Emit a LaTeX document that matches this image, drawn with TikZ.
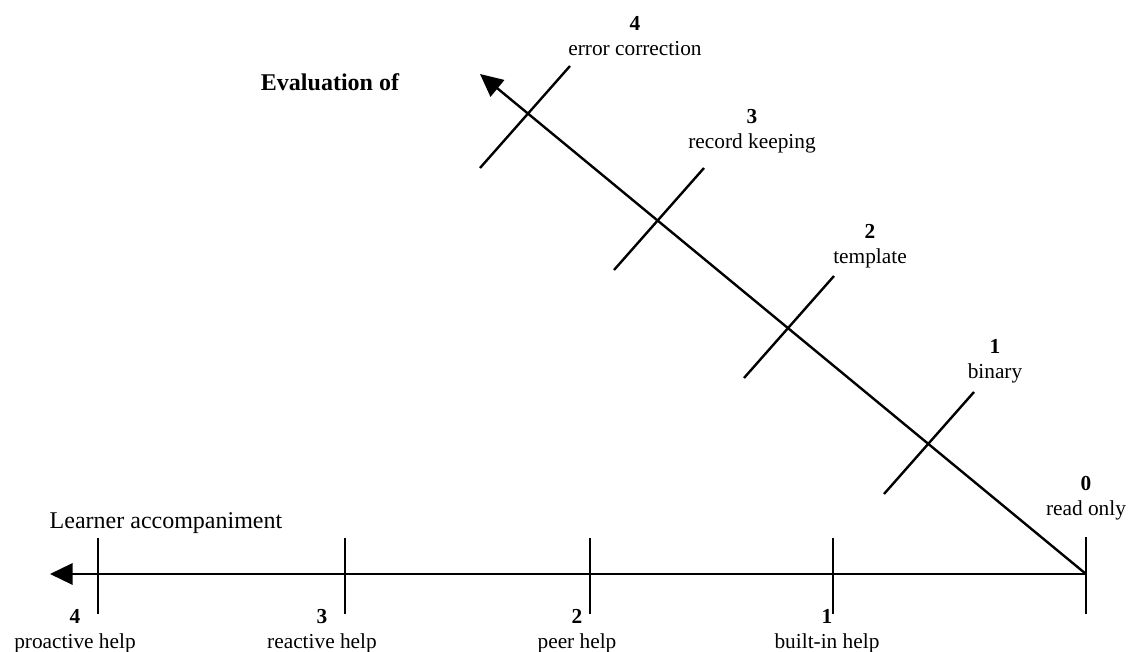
\documentclass[tikz,border=0pt]{standalone}
\usepackage{fontspec}
\setmainfont{Liberation Serif}
\usetikzlibrary{arrows.meta, positioning}
\tikzset{
	axis/.style={line width=1.8pt, -{Triangle[length=17pt,width=16pt]}}, % the two scales
	tick/.style={line width=1.8pt}, % small cross marks
	level/.style={align=center, font=\fontsize{16}{18.75}\selectfont}, % number and name of a level
	title/.style={font=\fontsize{18}{21}\selectfont}, % axis names
}
\begin{document}
\begin{tikzpicture}[x=0.75pt, y=-0.75pt]
	\useasboundingbox (0,0) rectangle (1140,652);
	% axes
	\coordinate (o) at (1086,574);
	\coordinate (htip) at (50,574);
	\coordinate (dtip) at (480,74);
	\draw[axis] (o) -- (htip);
	\draw[axis] (o) -- (dtip);
	% ticks on learner accompaniment
	\coordinate (h1) at (833,574);
	\coordinate (h2) at (590,574);
	\coordinate (h3) at (345,574);
	\coordinate (h4) at (98,574);
	\draw[tick] (1086,537) -- (1086,614);
	\draw[tick] (833,538) -- (833,614);
	\draw[tick] (590,538) -- (590,614);
	\draw[tick] (345,538) -- (345,614);
	\draw[tick] (98,538) -- (98,614);
	% ticks on evaluation
	\coordinate (d1) at (929,443);
	\coordinate (d2) at (789,327);
	\coordinate (d3) at (659,219);
	\coordinate (d4) at (525,117);
	\draw[tick] ([shift={(-45,51)}]d1) -- ([shift={(45,-51)}]d1);
	\draw[tick] ([shift={(-45,51)}]d2) -- ([shift={(45,-51)}]d2);
	\draw[tick] ([shift={(-45,51)}]d3) -- ([shift={(45,-51)}]d3);
	\draw[tick] ([shift={(-45,51)}]d4) -- ([shift={(45,-51)}]d4);
	% labels
	\node[title] (hname) at (166,523) {Learner accompaniment};
	\node[title, font=\fontsize{18}{21}\selectfont\bfseries] (dname) at (330,82) {Evaluation of};
	\node[level] (l0) at (1086,498) {\textbf{0}\\read only};
	\node[level] (lh1) at (827,631) {\textbf{1}\\built-in help};
	\node[level] (lh2) at (577,631) {\textbf{2}\\peer help};
	\node[level] (lh3) at (322,631) {\textbf{3}\\reactive help};
	\node[level] (lh4) at (75,631) {\textbf{4}\\proactive help};
	\node[level] (ld1) at (995,361) {\textbf{1}\\binary};
	\node[level] (ld2) at (870,246) {\textbf{2}\\template};
	\node[level] (ld3) at (752,131) {\textbf{3}\\record keeping};
	\node[level] (ld4) at (635,36) {\textbf{4}\\error correction};
\end{tikzpicture}
\end{document}
